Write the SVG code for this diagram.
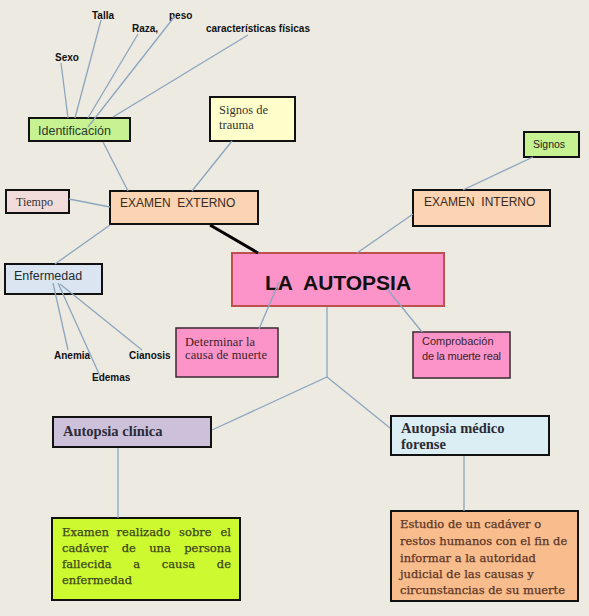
<svg xmlns="http://www.w3.org/2000/svg" width="589" height="616" viewBox="0 0 589 616">
<style>
.bg{fill:#EDEAE2}
.box{stroke:#111;stroke-width:2}
.thin{stroke:#3a2a30;stroke-width:1.5}
.con{stroke:#8BA6BE;stroke-width:1.3;fill:none}
.sans{font-family:"Liberation Sans",Arial,sans-serif}
.serif{font-family:"Liberation Serif","Times New Roman",serif}
.dserif{font-family:"DejaVu Serif",serif;font-size:11.5px;stroke-width:0.25}
.lbl{font-family:"Liberation Sans",Arial,sans-serif;font-weight:bold;font-size:10px;fill:#111}
.pre{white-space:pre}
.head{font-family:"Liberation Serif","Times New Roman",serif;font-weight:bold;font-size:14.5px;fill:#2b2b35}
</style>
<rect class="bg" x="0" y="0" width="589" height="616"/>

<g id="labels">
<text class="lbl" x="55" y="61">Sexo</text>
<text class="lbl" x="92" y="19">Talla</text>
<text class="lbl" x="132" y="32">Raza,</text>
<text class="lbl" x="169" y="19">peso</text>
<text class="lbl" x="206" y="32">características físicas</text>
<text class="lbl" x="54" y="359">Anemia</text>
<text class="lbl" x="92" y="381">Edemas</text>
<text class="lbl" x="129" y="359">Cianosis</text>
</g>

<g id="identificacion">
<rect class="box" x="29" y="118" width="101" height="23" fill="#C6F291"/>
<text class="sans" x="38" y="135" font-size="12.5" fill="#2a3a2a">Identificación</text>
</g>
<g id="signos-trauma">
<rect class="box" x="210" y="97" width="85" height="44" fill="#FFFFCC"/>
<text class="serif" x="219" y="114" font-size="12.5" fill="#333">Signos de</text>
<text class="serif" x="219" y="129" font-size="12.5" fill="#333">trauma</text>
</g>
<g id="tiempo">
<rect class="box" x="6" y="190" width="63" height="23" fill="#F2DCDB"/>
<text class="serif" x="16" y="206" font-size="12" fill="#333">Tiempo</text>
</g>
<g id="examen-externo">
<rect class="box" x="110" y="191" width="148" height="33" fill="#FBD4B4"/>
<text class="sans pre" xml:space="preserve" x="120" y="207" font-size="12" fill="#3a2a20">EXAMEN  EXTERNO</text>
</g>
<g id="enfermedad">
<rect class="box" x="5" y="264" width="97" height="30" fill="#DBE5F1"/>
<text class="sans" x="14" y="280" font-size="12.5" fill="#222a35">Enfermedad</text>
</g>
<g id="signos">
<rect class="box" x="524" y="132" width="55" height="25" fill="#C6F291"/>
<text class="sans" x="533" y="148" font-size="10.5" fill="#222">Signos</text>
</g>
<g id="examen-interno">
<rect class="box" x="413" y="190" width="137" height="36" fill="#FBD4B4"/>
<text class="sans pre" xml:space="preserve" x="424" y="206" font-size="12" fill="#3a2a20">EXAMEN  INTERNO</text>
</g>
<g id="la-autopsia">
<rect x="232" y="253" width="212" height="53" fill="#FC94C9" stroke="#C0504D" stroke-width="2"/>
<text class="sans pre" xml:space="preserve" x="338" y="290" font-size="21" font-weight="bold" text-anchor="middle" fill="#111">LA  AUTOPSIA</text>
</g>
<g id="determinar">
<rect class="thin" x="176" y="328" width="102" height="49" fill="#FC94C9"/>
<text class="serif" x="185" y="346" font-size="12.5" fill="#3a1f2a" textLength="70">Determinar la</text>
<text class="serif" x="185" y="359" font-size="12.5" fill="#3a1f2a" textLength="82">causa de muerte</text>
</g>
<g id="comprobacion">
<rect class="thin" x="413" y="332" width="97" height="46" fill="#FC94C9"/>
<text class="sans" x="422" y="345" font-size="11" fill="#3a1f2a">Comprobación</text>
<text class="sans" x="422" y="360" font-size="11" fill="#3a1f2a" textLength="79">de la muerte real</text>
</g>
<g id="autopsia-clinica">
<rect class="box" x="53" y="417" width="158" height="30" fill="#CCC0DA"/>
<text class="head" x="63" y="436">Autopsia clínica</text>
</g>
<g id="autopsia-forense">
<rect class="box" x="391" y="416" width="158" height="39" fill="#DAEEF3"/>
<text class="head" x="401" y="433">Autopsia médico</text>
<text class="head" x="401" y="449">forense</text>
</g>
<g id="examen-realizado">
<rect class="box" x="52" y="518" width="188" height="82" fill="#CCF930"/>
<g class="dserif" fill="#3b4418" stroke="#3b4418">
<text x="62" y="536">Examen</text><text x="116.6" y="536">realizado</text><text x="179.1" y="536">sobre</text><text x="231" y="536" text-anchor="end">el</text>
<text x="62" y="552">cadáver</text><text x="121.7" y="552">de</text><text x="149.2" y="552">una</text><text x="231" y="552" text-anchor="end">persona</text>
<text x="62" y="568">fallecida</text><text x="133.2" y="568">a</text><text x="161.7" y="568">causa</text><text x="231" y="568" text-anchor="end">de</text>
<text x="62" y="584">enfermedad</text>
</g>
</g>
<g id="estudio">
<rect class="box" x="391" y="511" width="187" height="90" fill="#F9BC8D"/>
<g class="dserif" fill="#5a3526" stroke="#5a3526">
<text x="400" y="528">Estudio de un cadáver o</text>
<text x="400" y="545">restos humanos con el fin de</text>
<text x="400" y="562">informar a la autoridad</text>
<text x="400" y="578">judicial de las causas y</text>
<text x="400" y="594">circunstancias de su muerte</text>
</g>
</g>

<g id="connectors">
<line class="con" x1="61" y1="63" x2="68" y2="118"/>
<line class="con" x1="101" y1="20" x2="75" y2="118"/>
<line class="con" x1="138" y1="34" x2="88" y2="118"/>
<line class="con" x1="175" y1="16" x2="88" y2="127"/>
<line class="con" x1="248" y1="35" x2="113" y2="117"/>
<line class="con" x1="103" y1="142" x2="128" y2="191"/>
<line class="con" x1="232" y1="141" x2="192" y2="191"/>
<line class="con" x1="69" y1="199" x2="110" y2="207"/>
<line class="con" x1="55" y1="264" x2="110" y2="225"/>
<line class="con" x1="53" y1="283" x2="68" y2="350"/>
<line class="con" x1="58" y1="283" x2="100" y2="376"/>
<line class="con" x1="60" y1="284" x2="142" y2="350"/>
<line x1="210" y1="225" x2="258" y2="253" stroke="#000" stroke-width="3"/>
<line class="con" x1="533" y1="157" x2="463" y2="190"/>
<line class="con" x1="413" y1="214" x2="357" y2="253"/>
<line class="con" x1="259" y1="329" x2="279" y2="282"/>
<line class="con" x1="388" y1="290" x2="422" y2="332"/>
<polyline class="con" points="212,430 327,377 390,428"/>
<line class="con" x1="327" y1="307" x2="327" y2="377"/>
<line class="con" x1="118" y1="448" x2="118" y2="518"/>
<line class="con" x1="464" y1="456" x2="464" y2="511"/>
</g>
</svg>
